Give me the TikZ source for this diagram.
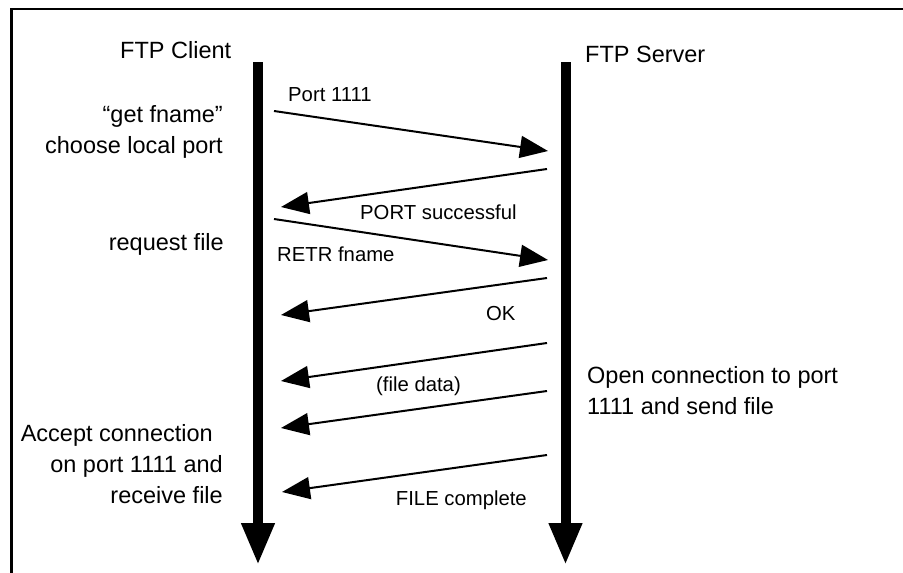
\documentclass[tikz,border=0pt]{standalone}
\usepackage{fontspec}
\setmainfont{Liberation Sans}
\usetikzlibrary{arrows.meta}

\begin{document}
\begin{tikzpicture}[
        x=1pt, y=-1pt,
        bigtext/.style={font=\fontsize{23.5}{31}\selectfont, inner sep=0pt},
        smalltext/.style={font=\fontsize{20.3}{24}\selectfont, inner sep=0pt},
        lifeline/.style={-{Triangle[length=42pt,width=31pt]}, line width=10pt},
        msg/.style={-{Triangle[length=28pt,width=22pt]}, line width=2pt}
    ]
    \useasboundingbox (0,0) rectangle (903,573);
    \draw[line width=2.5pt] (11.5,573) |- (903,9);

    \coordinate (clienttop) at (258,62);
    \coordinate (clientend) at (258,565);
    \coordinate (servertop) at (565.5,62);
    \coordinate (serverend) at (565.5,565);
    \draw[lifeline] (clienttop) -- (clientend);
    \draw[lifeline] (servertop) -- (serverend);

    \node[bigtext, anchor=base west] (client) at (120,58) {FTP Client};
    \node[bigtext, anchor=base west] (server) at (585,62) {FTP Server};

    \node[bigtext, anchor=base east, align=right] (getfile) at (223,153) {“get fname”\\choose local port};
    \node[bigtext, anchor=base east] (request) at (224,250) {request file};
    \node[bigtext, anchor=base east, align=right] (accept) at (223,503) {Accept connection\hspace*{10pt}\\on port 1111 and\\receive file};
    \node[bigtext, anchor=base west, align=left] (open) at (587,414) {Open connection to port\\1111 and send file};

    \coordinate (c1) at (274,111);   \coordinate (s1) at (548,151);
    \coordinate (s2) at (547,169);   \coordinate (c2) at (281,207);
    \coordinate (c3) at (274,219);   \coordinate (s3) at (548,260);
    \coordinate (s4) at (547,278);   \coordinate (c4) at (281,315);
    \coordinate (s5) at (547,343);   \coordinate (c5) at (281,381);
    \coordinate (s6) at (547,391);   \coordinate (c6) at (281,428);
    \coordinate (s7) at (547,455);   \coordinate (c7) at (282,492);

    \draw[msg] (c1) -- (s1);
    \draw[msg] (s2) -- (c2);
    \draw[msg] (c3) -- (s3);
    \draw[msg] (s4) -- (c4);
    \draw[msg] (s5) -- (c5);
    \draw[msg] (s6) -- (c6);
    \draw[msg] (s7) -- (c7);

    \node[smalltext, anchor=base west] (port) at (288,101) {Port 1111};
    \node[smalltext, anchor=base west] (portok) at (360,219) {PORT successful};
    \node[smalltext, anchor=base west] (retr) at (277,261) {RETR fname};
    \node[smalltext, anchor=base west] (ok) at (486,320) {OK};
    \node[smalltext, anchor=base west] (data) at (376,391) {(file data)};
    \node[smalltext, anchor=base east] (done) at (527,505) {FILE complete};
\end{tikzpicture}
\end{document}
